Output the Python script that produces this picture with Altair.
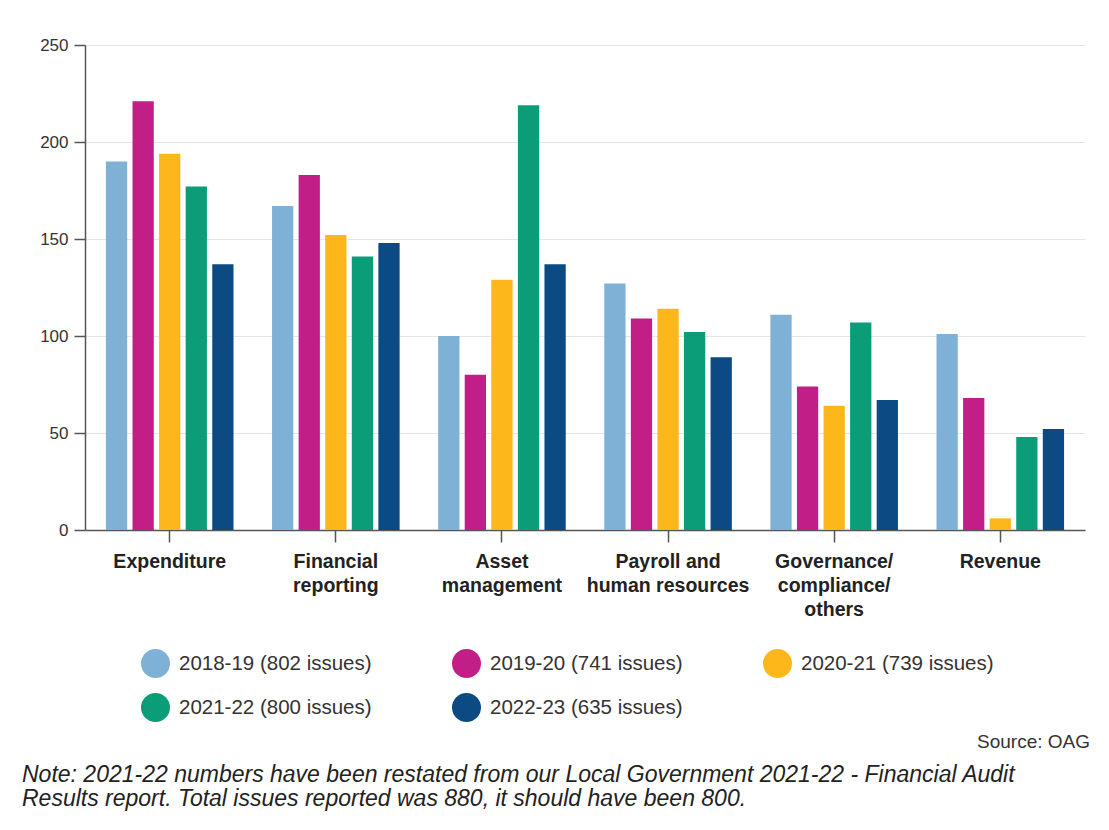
import altair as alt
import pandas as pd

categories = ["Expenditure", "Financial reporting", "Asset management",
              "Payroll and human resources", "Governance/ compliance/ others", "Revenue"]
category_lines = [["Expenditure"], ["Financial", "reporting"], ["Asset", "management"],
                  ["Payroll and", "human resources"], ["Governance/", "compliance/", "others"], ["Revenue"]]
years = ["2018-19 (802 issues)", "2019-20 (741 issues)", "2020-21 (739 issues)",
         "2021-22 (800 issues)", "2022-23 (635 issues)"]
colors = ["#7fb1d7", "#c11f87", "#fdb71a", "#0a9d78", "#0b4a82"]

v_2018_19 = [190, 167, 100, 127, 111, 101]
v_2019_20 = [221, 183, 80, 109, 74, 68]
v_2020_21 = [194, 152, 129, 114, 64, 6]
v_2021_22 = [177, 141, 219, 102, 107, 48]
v_2022_23 = [137, 148, 137, 89, 67, 52]
y_ticks = [0, 50, 100, 150, 200, 250]

source_text = "Source: OAG"
note_text = ("Note: 2021-22 numbers have been restated from our Local Government 2021-22 - Financial Audit\n"
             "Results report. Total issues reported was 880, it should have been 800.")

series = [v_2018_19, v_2019_20, v_2020_21, v_2021_22, v_2022_23]
rows = []
for yname, vals in zip(years, series):
    for c, v in zip(categories, vals):
        rows.append({"category": c, "year": yname, "issues": v})
df = pd.DataFrame(rows)

# label expression for multi-line category labels
expr = "datum.label"
for c, lines in reversed(list(zip(categories, category_lines))):
    arr = "[" + ",".join("'" + l + "'" for l in lines) + "]"
    expr = f"datum.label == '{c}' ? {arr} : ({expr})"

FONT = "Liberation Sans"

bars = alt.Chart(df).mark_bar().encode(
    x=alt.X("category:N", sort=categories, title=None,
            scale=alt.Scale(paddingInner=0.2, paddingOuter=0.11),
            axis=alt.Axis(labelAngle=0, labelExpr=expr, labelFont=FONT, labelFontSize=19.5,
                          labelFontWeight="bold", labelColor="#222", labelLineHeight=24,
                          labelPadding=10, labelBaseline="top",
                          tickSize=12, tickColor="#555", tickWidth=1.5,
                          domainColor="#555", domainWidth=1.5, labelLimit=300)),
    xOffset=alt.XOffset("year:N", sort=years,
                        scale=alt.Scale(paddingInner=0.2, paddingOuter=0.1)),
    y=alt.Y("issues:Q", title=None,
            scale=alt.Scale(domain=[0, 250], nice=False),
            axis=alt.Axis(values=y_ticks, labelFont=FONT, labelFontSize=17, labelColor="#333",
                          tickSize=11, tickColor="#555", tickWidth=1.5, domainColor="#555",
                          domainWidth=1.5, labelPadding=6, grid=True, gridColor="#e6e6e6",
                          gridWidth=1)),
    color=alt.Color("year:N", sort=years, scale=alt.Scale(domain=years, range=colors),
                    legend=alt.Legend(title=None, orient="none", legendX=56, legendY=604,
                                      columns=3, direction="horizontal", symbolType="circle",
                                      symbolSize=841, symbolStrokeWidth=0, symbolOpacity=1,
                                      labelFont=FONT, labelFontSize=20.5, labelColor="#333",
                                      labelLimit=400, labelOffset=9, columnPadding=80,
                                      rowPadding=15, padding=0)),
)

source = alt.Chart(pd.DataFrame({"t": [source_text]})).mark_text(
    align="right", baseline="middle", font=FONT, fontSize=19, color="#333"
).encode(text="t:N", x=alt.value(1005), y=alt.value(697))

note = alt.Chart(pd.DataFrame({"t": [note_text]})).mark_text(
    align="left", baseline="alphabetic", font=FONT, fontSize=23, fontStyle="italic",
    color="#222", lineBreak="\n", lineHeight=24
).encode(text="t:N", x=alt.value(-63), y=alt.value(737))

chart = alt.layer(bars, source, note).properties(
    width=1000, height=485,
    autosize=alt.AutoSizeParams(type="none"),
    padding={"left": 77, "top": 37, "right": 16, "bottom": 292},
).configure_view(stroke=None)

chart.save("out.html", embed_options={"renderer": "svg", "actions": False})
